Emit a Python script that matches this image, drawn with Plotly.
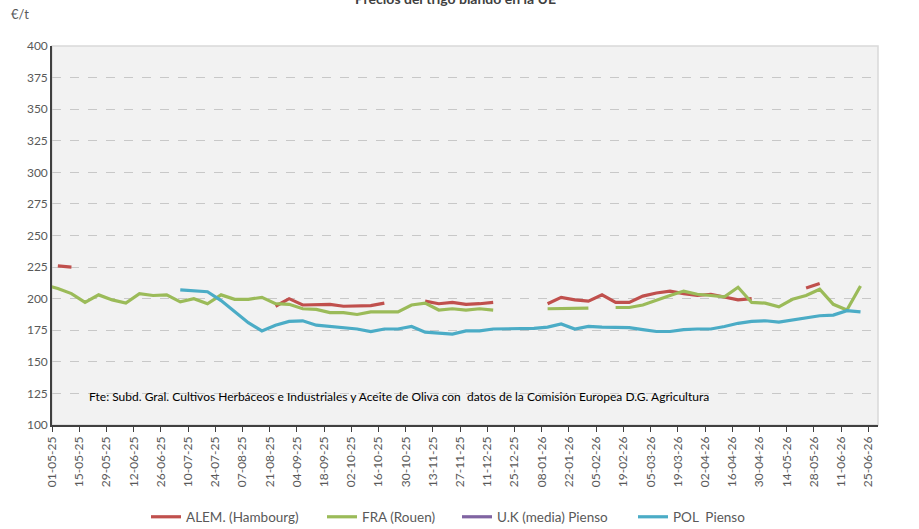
import pandas as pd
import plotly.graph_objects as go

# Weekly observation dates (week ending Sunday); first one lies just before the axis start
dates = list(pd.date_range("2025-04-27", periods=61, freq="7D"))

tick_labels = ["01-05-25", "15-05-25", "29-05-25", "12-06-25", "26-06-25", "10-07-25",
               "24-07-25", "07-08-25", "21-08-25", "04-09-25", "18-09-25", "02-10-25",
               "16-10-25", "30-10-25", "13-11-25", "27-11-25", "11-12-25", "25-12-25",
               "08-01-26", "22-01-26", "05-02-26", "19-02-26", "05-03-26", "19-03-26",
               "02-04-26", "16-04-26", "30-04-26", "14-05-26", "28-05-26", "11-06-26",
               "25-06-26"]

N = None
alem = [N, 226, 225, N, N, N, N, N, N, N, N, N, N, N, N, N, N,
        194, 200, 195, 195, 195.5, 194, 194, 194.5, 196.5, N, N,
        198, 196, 197, 195.5, 196, 197, N, N, N,
        196, 201, 199, 198, 203, 197, 197, 202, 204.5, 206, 204, 202.5, 203.5, 201.5, 199, 200,
        N, N, N, 208.5, 212, N, N, N]

fra = [211, 208, 204, 197, 203, 199, 196.5, 204, 202.5, 203, 197.5, 200, 196, 203, 199.5, 199.5,
       201, 196, 195.5, 192, 191.5, 189, 189, 187.5, 189.5, 189.5, 189.5, 195, 196.5, 191, 192, 191,
       192, 191, N, N, N, 192, 192, 192, 192.5, N, 193, 193, 195, 199, 202.5, 206, 203.5, 202.5,
       201.5, 209, 197, 196.5, 193.5, 199.5, 202.5, 207.5, 195.5, 191, 210]

uk = [N] * 61  # no U.K. values published in the period

pol = [N, N, N, N, N, N, N, N, N, N, 207, 206, 205.5, 198.5, 190, 181, 174.5, 179, 182, 182.5,
       179, 178, 177.5, 176, 174, 176, 176, 178, 173.5, 173, 172, 174.5, 174.5, 176, 176, 176,
       176.5, 177.5, 180, 176, 178, 177.5, 177, 177, 175.5, 174, 174, 175.5, 176, 176, 178,
       180.5, 182, 182.5, 181.5, 183, 184.5, 186.5, 187, 190.5, 189.5]

series = [("ALEM. (Hambourg)", alem, "#C0504D"),
          ("FRA (Rouen)", fra, "#9BBB59"),
          ("U.K (media) Pienso", uk, "#8064A2"),
          ("POL  Pienso", pol, "#4BACC6")]

FONT = "Lato"
W, H = 919, 529
L, R, T, B = 52, 41, 46, 104
PW, PH = W - L - R, H - T - B

# left pixel where each legend entry's line starts in the picture
legend_left = [156, 332, 467, 643]

fig = go.Figure()
legend_layouts = {}
for i, (name, vals, col) in enumerate(series):
    lg = "legend" if i == 0 else f"legend{i + 1}"
    fig.add_trace(go.Scatter(x=dates, y=vals, name=name, mode="lines", legend=lg,
                             line=dict(color=col, width=3.2), connectgaps=False))
    legend_layouts[lg] = dict(orientation="h", x=(legend_left[i] - 10) / W, xanchor="left",
                              xref="container", y=1 - 517 / H, yanchor="middle",
                              yref="container", font=dict(size=13.5, color="#595959"),
                              itemwidth=30, bgcolor="rgba(0,0,0,0)", borderwidth=0)

tickvals = [pd.to_datetime(t, format="%d-%m-%y") for t in tick_labels]

fig.update_layout(
    width=W, height=H,
    margin=dict(l=L, r=R, t=T, b=B, autoexpand=False),
    paper_bgcolor="white", plot_bgcolor="#F2F2F2",
    font=dict(family=FONT, size=12, color="#595959"),
    showlegend=True,
    **legend_layouts,
    xaxis=dict(type="date", range=["2025-05-01", "2026-06-30"], automargin=False,
               tickmode="array", tickvals=tickvals, ticktext=tick_labels, tickangle=-90,
               showgrid=False, showline=True, linecolor="#404040", linewidth=1.5,
               ticks="outside", ticklen=5, tickcolor="#404040",
               tickfont=dict(size=12, color="#595959"), zeroline=False),
    yaxis=dict(range=[100, 400], tickmode="linear", tick0=100, dtick=25, automargin=False,
               showgrid=True, gridcolor="#C8C8C8", griddash="dash", gridwidth=1,
               showline=True, linecolor="#404040", linewidth=1.5, ticks="",
               tickfont=dict(size=12, color="#595959"), zeroline=False),
    shapes=[dict(type="rect", xref="paper", yref="paper", x0=0, x1=1, y0=0, y1=1,
                 line=dict(color="#D9D9D9", width=1.5), layer="below")],
    annotations=[
        dict(text="<b>Precios del trigo blando en la UE</b>", xref="paper", yref="paper",
             x=(455 - L) / PW, y=1 + 48 / PH, xanchor="center", yanchor="middle", showarrow=False,
             font=dict(size=14, color="#404040", family=FONT)),
        dict(text="€/t", xref="paper", yref="paper", x=(9 - L) / PW, y=1 + (T - 14) / PH,
             xanchor="left", yanchor="middle", showarrow=False,
             font=dict(size=13, color="#595959", family=FONT)),
        dict(text="Fte: Subd. Gral. Cultivos Herbáceos e Industriales y Aceite de Oliva con  datos de la Comisión Europea D.G. Agricultura",
             xref="paper", yref="paper", x=(87 - L) / PW, y=(425 - 396) / PH,
             xanchor="left", yanchor="middle", showarrow=False,
             font=dict(size=12, color="#000000", family=FONT)),
    ],
)

fig.write_html("out.html", config={"displayModeBar": False},
               post_script="document.body.style.margin='0';")
